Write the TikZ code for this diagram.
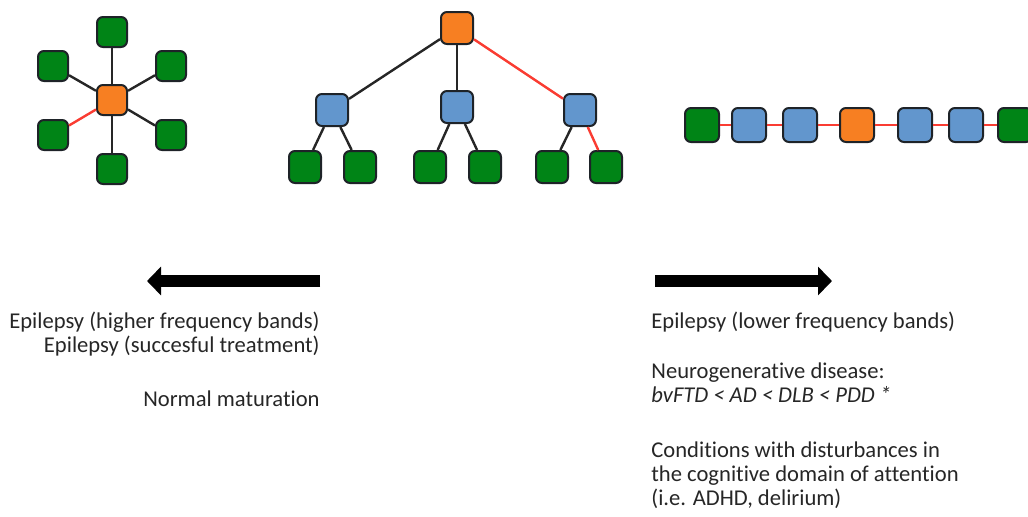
\documentclass[tikz,border=0pt]{standalone}
\usepackage{fontspec}
\setmainfont[Ligatures={NoCommon,NoRare}]{Carlito}
\usetikzlibrary{arrows.meta}
\definecolor{hubOrange}{RGB}{247,127,34}
\definecolor{leafGreen}{RGB}{0,132,22}
\definecolor{midBlue}{RGB}{98,150,205}
\definecolor{linkRed}{RGB}{250,60,50}
\definecolor{boxLine}{RGB}{30,35,40}
\begin{document}
\begin{tikzpicture}[x=0.5pt,y=-0.5pt,
  box/.style={draw=boxLine, line width=1pt, rounded corners=3pt, minimum size=15pt, inner sep=0pt},
  hub/.style={box, fill=hubOrange},
  leaf/.style={box, fill=leafGreen},
  mid/.style={box, fill=midBlue},
  link/.style={line width=1.2pt, black!85},
  hot/.style={line width=1.2pt, linkRed},
  bigarrow/.style={line width=6pt, -{Triangle[length=7pt,width=14pt]}},
  font=\fontsize{11.3}{13.5}\selectfont, text=black!85]
  \useasboundingbox (0,0) rectangle (1028,516);

  % star
  \node[hub] (S) at (112,100) {};
  \node[leaf] (S1) at (112,32) {};
  \node[leaf] (S2) at (171,66) {};
  \node[leaf] (S3) at (171,135) {};
  \node[leaf] (S4) at (112,169) {};
  \node[leaf] (S5) at (53,135) {};
  \node[leaf] (S6) at (53,66) {};
  \foreach \n in {S1,S2,S3,S4,S6}
    \draw[link] (S) -- (\n);
  \draw[hot] (S) -- (S5);

  % tree
  \begin{scope}[box/.append style={minimum size=16pt}]
    \node[hub] (T) at (457,28) {};
    \node[mid] (TA) at (332,110) {};
    \node[mid] (TB) at (457,107) {};
    \node[mid] (TC) at (580,110) {};
    \node[leaf] (TA1) at (305,167) {};
    \node[leaf] (TA2) at (360,167) {};
    \node[leaf] (TB1) at (430,167) {};
    \node[leaf] (TB2) at (485,167) {};
    \node[leaf] (TC1) at (552,167) {};
    \node[leaf] (TC2) at (606,167) {};
  \end{scope}
  \draw[link] (T) -- (TA);
  \draw[link] (T) -- (TB);
  \draw[hot] (T) -- (TC);
  \draw[link] (TA) -- (TA1);
  \draw[link] (TA) -- (TA2);
  \draw[link] (TB) -- (TB1);
  \draw[link] (TB) -- (TB2);
  \draw[link] (TC) -- (TC1);
  \draw[hot] (TC) -- (TC2);

  % chain
  \begin{scope}[box/.append style={minimum size=17pt}]
    \node[leaf] (C1) at (702,125) {};
    \node[mid] (C2) at (749,125) {};
    \node[mid] (C3) at (800,125) {};
    \node[hub] (C4) at (857,125) {};
    \node[mid] (C5) at (915,125) {};
    \node[mid] (C6) at (966,125) {};
    \node[leaf] (C7) at (1015,125) {};
  \end{scope}
  \foreach \a/\b in {C1/C2,C2/C3,C3/C4,C4/C5,C5/C6,C6/C7}
    \draw[hot] (\a) -- (\b);

  % arrows
  \coordinate (La) at (320,281);
  \coordinate (Lb) at (147,281);
  \coordinate (Ra) at (655,281);
  \coordinate (Rb) at (832,281);
  \draw[bigarrow] (La) -- (Lb);
  \draw[bigarrow] (Ra) -- (Rb);

  % labels
  \node[anchor=base east, inner sep=0pt] (epiHigh) at (320,328) {Epilepsy (higher frequency bands)};
  \node[anchor=base east, inner sep=0pt] (epiTreat) at (320,352) {Epilepsy (succesful treatment)};
  \node[anchor=base east, inner sep=0pt] (maturation) at (320,406) {Normal maturation};
  \node[anchor=base west, inner sep=0pt] (epiLow) at (651,328) {Epilepsy (lower frequency bands)};
  \node[anchor=base west, inner sep=0pt] (neuro) at (651,378) {Neurogenerative disease:};
  \node[anchor=base west, inner sep=0pt] (order) at (651,402) {\textit{bvFTD < AD < DLB < PDD *}};
  \node[anchor=base west, inner sep=0pt] (attn1) at (651,457) {Conditions with disturbances in};
  \node[anchor=base west, inner sep=0pt] (attn2) at (651,481) {the cognitive domain of attention};
  \node[anchor=base west, inner sep=0pt] (attn3) at (651,505) {(i.e. ADHD, delirium)};
\end{tikzpicture}
\end{document}
